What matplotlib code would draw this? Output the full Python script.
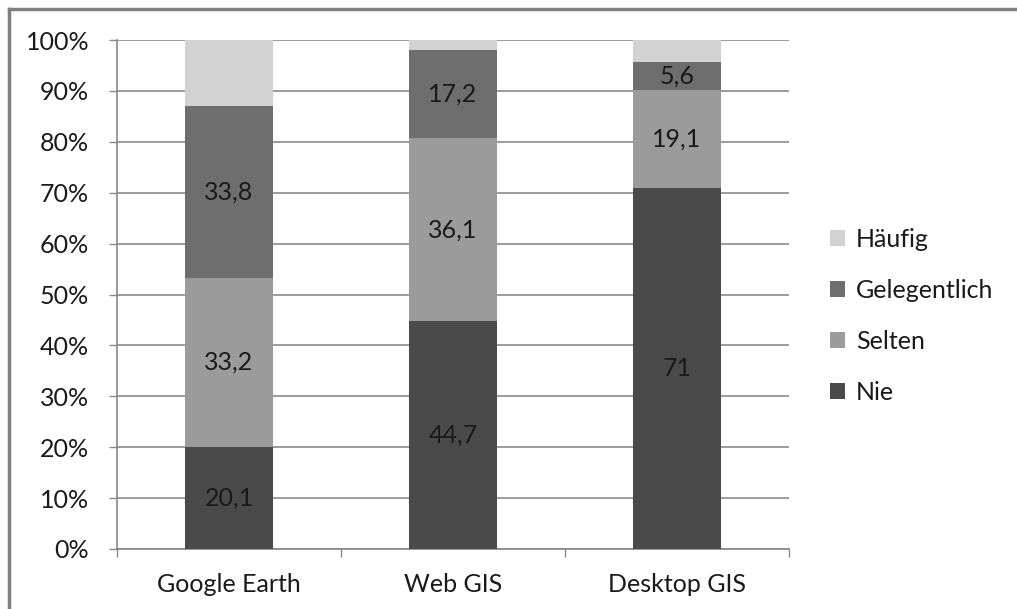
import matplotlib
matplotlib.use("Agg")
import matplotlib.pyplot as plt
from matplotlib.patches import Patch
from matplotlib.lines import Line2D

categories = ["Google Earth", "Web GIS", "Desktop GIS"]
series_names = ["Nie", "Selten", "Gelegentlich", "Häufig"]
nie = [20.1, 44.7, 71.0]
selten = [33.2, 36.1, 19.1]
gelegentlich = [33.8, 17.2, 5.6]
haeufig = [12.9, 2.0, 4.3]
label_nie = ["20,1", "44,7", "71"]
label_selten = ["33,2", "36,1", "19,1"]
label_gelegentlich = ["33,8", "17,2", "5,6"]
yticklabels = ["0%", "10%", "20%", "30%", "40%", "50%", "60%", "70%", "80%", "90%", "100%"]

colors = {"Nie": "#4a4a4a", "Selten": "#9b9b9b", "Gelegentlich": "#6e6e6e", "Häufig": "#d2d2d2"}

plt.rcParams['font.family'] = ['Lato', 'DejaVu Sans']
FS = 18

fig = plt.figure(figsize=(10.17, 6.09), dpi=100)
ax = fig.add_axes([117/1017, 1-549/609, (789-117)/1017, (549-40)/609])

x = list(range(len(categories)))
w = 0.395
values = [nie, selten, gelegentlich, haeufig]
labels = [label_nie, label_selten, label_gelegentlich, None]
bottom = [0, 0, 0]
for name, vals, labs in zip(series_names, values, labels):
    ax.bar(x, vals, w, bottom=bottom, color=colors[name], zorder=3)
    if labs is not None:
        for i in range(len(x)):
            ax.text(x[i], bottom[i] + vals[i] / 2, labs[i], ha='center', va='center',
                    fontsize=FS, color='#1a1a1a', zorder=4)
    bottom = [b + v for b, v in zip(bottom, vals)]

ax.set_xlim(-0.5, 2.5)
ax.set_ylim(0, 100)
ax.set_yticks(range(0, 101, 10))
ax.set_yticklabels(yticklabels, fontsize=FS, color='#1a1a1a')
ax.set_xticks(x)
ax.set_xticklabels(categories, fontsize=FS, color='#1a1a1a')
ax.set_xticks([-0.5, 0.5, 1.5, 2.5], minor=True)
ax.tick_params(axis='x', which='major', length=0, pad=17)
ax.tick_params(axis='x', which='minor', length=6, color='#888888', width=1)
ax.tick_params(axis='y', length=6, color='#888888', width=1, pad=14)
ax.yaxis.grid(True, color='#8a8a8a', linewidth=1.2, zorder=0)
ax.set_axisbelow(True)
for s in ['top', 'right']:
    ax.spines[s].set_visible(False)
for s in ['left', 'bottom']:
    ax.spines[s].set_color('#888888')
    ax.spines[s].set_linewidth(1.2)

handles = [Patch(facecolor=colors[n]) for n in ["Häufig", "Gelegentlich", "Selten", "Nie"]]
leg = fig.legend(handles, ["Häufig", "Gelegentlich", "Selten", "Nie"],
                 loc='center left', bbox_to_anchor=(830/1017, 1-316/609),
                 frameon=False, fontsize=FS, handlelength=0.6, handleheight=0.6,
                 handletextpad=0.45, labelspacing=1.12, borderaxespad=0, borderpad=0)
for t in leg.get_texts():
    t.set_color('#1a1a1a')

# figure border (top and left)
fig.add_artist(Line2D([9/1017, 1], [1-9/609, 1-9/609], transform=fig.transFigure, color='#808080', linewidth=2.5))
fig.add_artist(Line2D([9/1017, 9/1017], [0, 1-9/609], transform=fig.transFigure, color='#808080', linewidth=2.5))

fig.savefig("out.png", dpi=100)
